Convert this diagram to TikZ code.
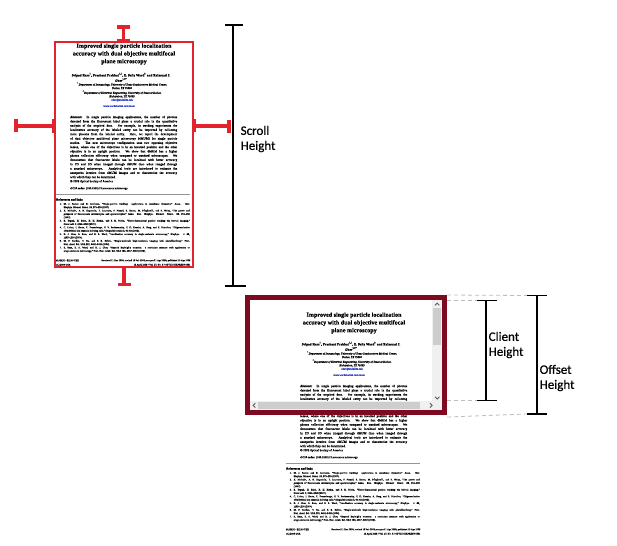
\documentclass[tikz,border=0pt]{standalone}
\usepackage{fontspec}
\setmainfont{Liberation Serif}[FakeBold=0.2]
\newfontfamily\labelfont{Carlito}[FakeBold=0.6]
\usetikzlibrary{calc}
\definecolor{handlered}{RGB}{226,35,45}
\definecolor{winred}{RGB}{125,10,32}
\definecolor{trackgray}{RGB}{240,240,240}
\definecolor{thumbgray}{RGB}{205,205,205}
\definecolor{arrowgray}{RGB}{90,90,90}
\definecolor{dashgray}{RGB}{190,190,190}
\definecolor{linkblue}{RGB}{40,60,200}
\definecolor{rulegray}{RGB}{150,150,150}
\newcommand\fsz[2]{\fontsize{#1}{#2}\selectfont}
\newcommand\absl[1]{\makebox[107pt][s]{#1}}
\newcommand\refl[1]{\makebox[126pt][s]{#1}}
\newcommand\refe[1]{\makebox[126pt][l]{#1}}
\newcommand\refn[1]{\makebox[4pt][l]{#1}}
\newcommand\paperpage[1]{%
  \node[pagetext, anchor=north, align=center, font=\bfseries\fsz{6.1}{7.75}] (#1title) at (124,43.3)
    {Improved single particle localization\\accuracy with dual objective multifocal\\plane microscopy};
  \node[pagetext, anchor=north, align=center, font=\bfseries\fsz{3.4}{4}] (#1authors) at (121,72.6)
    {Sripad Ram\textsuperscript{1}, Prashant Prabhat\textsuperscript{1,2}, E. Sally Ward\textsuperscript{3} and Raimund J.\\Ober\textsuperscript{1,2*}};
  \node[pagetext, anchor=north, align=center, font=\itshape\fsz{2.8}{3.5}] (#1affil) at (122,82.0)
    {\textsuperscript{1}Department of Immunology, University of Texas Southwestern Medical Center,\\Dallas, TX 75390\\
     \textsuperscript{2}Department of Electrical Engineering, University of Texas at Dallas,\\Richardson, TX 75083\\
     \textcolor{linkblue}{ober@utdallas.edu}};
  \node[pagetext, anchor=center, font=\fsz{2.7}{3.2}, text=linkblue] (#1link) at (119,106)
    {www.wardoberlab.com/mum};
  \node[pagetext, anchor=north west, align=left, font=\fsz{3.2}{4.29}] (#1abstract) at (70,115.6)
    {\absl{\textbf{\textit{Abstract:}}\ \ In single particle imaging applications, the number of photons}\\
     \absl{detected from the fluorescent label plays a crucial role in the quantitative}\\
     \absl{analysis of the acquired data. For example, in tracking experiments the}\\
     \absl{localization accuracy of the labeled entity can be improved by collecting}\\
     \absl{more photons from the labeled entity. Here, we report the development}\\
     \absl{of dual objective multifocal plane microscopy (dMUM) for single particle}\\
     \absl{studies. The new microscope configuration uses two opposing objective}\\
     \absl{lenses, where one of the objectives is in an inverted position and the other}\\
     \absl{objective is in an upright position. We show that dMUM has a higher}\\
     \absl{photon collection efficiency when compared to standard microscopes. We}\\
     \absl{demonstrate that fluorescent labels can be localized with better accuracy}\\
     \absl{in 2D and 3D when imaged through dMUM than when imaged through}\\
     \absl{a standard microscope. Analytical tools are introduced to estimate the}\\
     \absl{nanoprobe location from dMUM images and to characterize the accuracy}\\
     \makebox[107pt][l]{with which they can be determined.}};
  \node[pagetext, anchor=west, font=\fsz{3}{3.6}] (#1copy) at (70,181.5) {\textcopyright\ 2009 Optical Society of America};
  \node[pagetext, anchor=west, font=\fsz{2.8}{3.4}] (#1ocis) at (70,188.5) {\textbf{OCIS codes:} (180.2520) Fluorescence microscopy.};
  \coordinate (#1rulea) at (56,194);
  \coordinate (#1ruleb) at (190,194);
  \draw[rulegray, line width=0.5] (#1rulea) -- (#1ruleb);
  \node[pagetext, anchor=west, font=\bfseries\fsz{3}{3.6}] (#1refhead) at (56,199.5) {References and links};
  \node[pagetext, anchor=north west, align=left, font=\fsz{2.45}{3.36}] (#1refs) at (59.5,202.8)
    {\refn{1.}\refl{M. J. Saxton and K. Jacobson, “Single-particle tracking: applications to membrane dynamics,” Annu. Rev.}\\
     \refn{}\refe{Biophys. Biomol. Struct. \textbf{26}, 373–399 (1997).}\\
     \refn{2.}\refl{X. Michalet, A. N. Kapanidis, T. Laurence, F. Pinaud, S. Doose, M. Pflughoefft, and S. Weiss, “The power and}\\
     \refn{}\refl{prospects of fluorescence microscopies and spectroscopies,” Annu. Rev. Biophys. Biomol. Struct. \textbf{32}, 161–182}\\
     \refn{}\refe{(2003).}\\
     \refn{3.}\refl{E. Toprak, H. Balci, B. H. Blehm, and P. R. Selvin, “Three-dimensional particle tracking via bifocal imaging,”}\\
     \refn{}\refe{Nano Lett. \textbf{7}, 2043–2048 (2007).}\\
     \refn{4.}\refl{C. Lichte, I. Hortz, C. Franzolungo, V. V. Parthasarathy, Y. D. Kossler, A. Berg, and S. Schreiber, “Oligomerization}\\
     \refn{}\refe{of individual ion channels in living cells,” Single Molecules \textbf{3}, 91–92 (2002).}\\
     \refn{5.}\refl{R. J. Ober, S. Ram, and E. S. Ward, “Localization accuracy in single-molecule microscopy,” Biophys. J. \textbf{86},}\\
     \refn{}\refe{1185–1200 (2004).}\\
     \refn{6.}\refl{M. P. Gordon, T. Ha, and P. R. Selvin, “Single-molecule high-resolution imaging with photobleaching,” Proc.}\\
     \refn{}\refe{Natl. Acad. Sci. USA \textbf{101}, 6462–6465 (2004).}\\
     \refn{7.}\refl{S. Ram, E. S. Ward, and R. J. Ober, “Beyond Rayleigh’s criterion: a resolution measure with application to}\\
     \refn{}\refe{single-molecule microscopy,” Proc. Natl. Acad. Sci. USA \textbf{103}, 4457–4462 (2006).}};
  \node[pagetext, anchor=north west, align=left, font=\fsz{2.45}{4.3}] (#1footl) at (56,259.3)
    {\#106656 - \$15.00 USD\\(C) 2009 OSA};
  \node[pagetext, anchor=north east, align=right, font=\fsz{2.45}{4.3}] (#1footr) at (190.5,259.3)
    {Received 11 Dec 2008; revised 18 Feb 2009; accepted 1 Apr 2009; published 10 Apr 2009\\13 April 2009 / Vol. 17, No. 8 / OPTICS EXPRESS 6881};
}
\begin{document}
\begin{tikzpicture}[x=1pt, y=-1pt,
  pagetext/.style={inner sep=0, text=black},
  handle/.style={handlered, line width=3.5},
  handlebar/.style={handlered, line width=3.2},
  dimline/.style={black, line width=1.3},
  guide/.style={dashgray, line width=0.8, dash pattern=on 4pt off 3pt},
  dimlabel/.style={inner sep=0, align=left, font=\labelfont\fsz{13}{15}},
  chev/.style={arrowgray, line width=0.9}]
\useasboundingbox (0,0) rectangle (617,545);
\fill[white] (0,0) rectangle (617,545);

% ---------- top page ----------
\paperpage{a}
\node[draw=handlered, line width=1.2, minimum width=138pt, minimum height=225pt, inner sep=0] (pagebox) at (124,154.5) {};

% handles
\coordinate (ht1) at (123.7,27);   \coordinate (ht2) at (123.7,40.5);
\draw[handle] (ht1) -- (ht2);
\draw[handlebar] ($(ht1)+(-6.5,0)$) -- ($(ht1)+(6.5,0)$);
\draw[handlebar] ($(ht2)+(-6.5,0)$) -- ($(ht2)+(6.5,0)$);

\coordinate (hb1) at (124.2,267); \coordinate (hb2) at (124.2,284.5);
\draw[handle] (hb1) -- (hb2);
\draw[handlebar] ($(hb2)+(-6.5,0)$) -- ($(hb2)+(6.5,0)$);

\coordinate (hl1) at (16,126); \coordinate (hl2) at (53.7,126);
\draw[handle] (hl1) -- (hl2);
\draw[handlebar] ($(hl1)+(0,-6.5)$) -- ($(hl1)+(0,6)$);
\draw[handlebar] ($(hl2)+(0,-7)$) -- ($(hl2)+(0,7)$);

\coordinate (hr1) at (194.3,126); \coordinate (hr2) at (229,126);
\draw[handle] (hr1) -- (hr2);
\draw[handlebar] ($(hr1)+(0,-6.5)$) -- ($(hr1)+(0,6.5)$);
\draw[handlebar] ($(hr2)+(0,-6)$) -- ($(hr2)+(0,7)$);

% scroll height
\coordinate (sh1) at (233,25); \coordinate (sh2) at (233,286);
\draw[dimline] (sh1) -- (sh2);
\draw[dimline] ($(sh1)+(-8,0)$) -- ($(sh1)+(10,0)$);
\draw[dimline] ($(sh2)+(-8,0)$) -- ($(sh2)+(13,0)$);
\node[dimlabel, anchor=west] (scrolllbl) at (240.5,139) {Scroll\\Height};

% ---------- bottom page in window ----------
\begin{scope}[shift={(230,269)}]
\paperpage{b}
\end{scope}

% scrollbars
\fill[trackgray] (432,300) rectangle (442,401);
\fill[thumbgray] (432.5,308) rectangle (441,345);
\fill[trackgray] (250,401) rectangle (442,409.5);
\fill[thumbgray] (258,401.5) rectangle (420,409);
\draw[chev] (435,305.3) -- (437.2,303.1) -- (439.4,305.3);
\draw[chev] (435,396.8) -- (437.2,399) -- (439.4,396.8);
\draw[chev] (255.3,403.2) -- (253.1,405.4) -- (255.3,407.6);
\draw[chev] (430,403.2) -- (432.2,405.4) -- (430,407.6);

% window frame
\node[draw=winred, line width=5, minimum width=197pt, minimum height=114.5pt, inner sep=0] (win) at (346,354.75) {};

% guides
\coordinate (ot) at (537,295.5); \coordinate (ob) at (537,414);
\coordinate (ct) at (486,300.5); \coordinate (cb) at (486,400.5);
\draw[guide] (win.north east) -- ($(ot)+(-10,0)$);
\draw[guide] ($(win.south east)+(0,2.5)$) -- ($(ob)+(-10,0)$);
\draw[guide] (447,300.5) -- ($(ct)+(-9,0)$);
\draw[guide] (447,400.5) -- ($(cb)+(-9,0)$);

% client height
\draw[dimline] (ct) -- (cb);
\draw[dimline] ($(ct)+(-9,0)$) -- ($(ct)+(11,0)$);
\draw[dimline] ($(cb)+(-9,0)$) -- ($(cb)+(11,0)$);
\node[dimlabel, anchor=west] (clientlbl) at (488.5,345) {Client\\Height};

% offset height
\draw[dimline] (ot) -- (ob);
\draw[dimline] ($(ot)+(-10,0)$) -- ($(ot)+(10,0)$);
\draw[dimline] ($(ob)+(-10,0)$) -- ($(ob)+(10,0)$);
\node[dimlabel, anchor=west] (offsetlbl) at (539.5,378) {Offset\\Height};
\end{tikzpicture}
\end{document}
